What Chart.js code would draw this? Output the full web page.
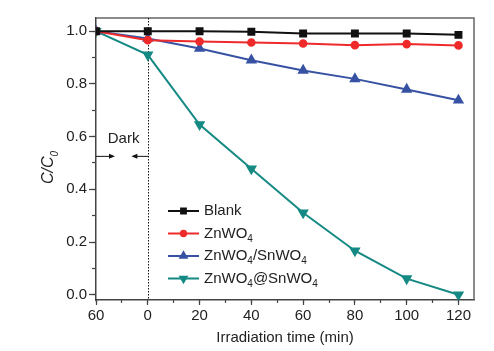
<!DOCTYPE html>
<html>
<head>
<meta charset="utf-8">
<script src="https://cdn.jsdelivr.net/npm/chart.js@4"></script>
<style>
  html, body { margin: 0; padding: 0; background: #fff; }
</style>
</head>
<body>
<canvas id="graph" width="494" height="351"></canvas>
<script>
// sampling times (min); the dark period before 0 is drawn compressed
const times = [-60, 0, 20, 40, 60, 80, 100, 120];
const names = ["Blank", "ZnWO₄", "ZnWO₄/SnWO₄", "ZnWO₄@SnWO₄"];
const blank = [1.0, 1.0, 1.0, 0.998, 0.991, 0.991, 0.991, 0.986];
const znwo4 = [1.0, 0.966, 0.961, 0.957, 0.953, 0.947, 0.951, 0.946];
const mixed = [1.0, 0.972, 0.934, 0.890, 0.851, 0.819, 0.779, 0.738];
const core = [1.0, 0.910, 0.646, 0.478, 0.311, 0.167, 0.061, 0.0];
const xTicks = [-60, 0, 20, 40, 60, 80, 100, 120];
const yTicks = [0.0, 0.2, 0.4, 0.6, 0.8, 1.0];

const pos = t => (t < 0 ? t / 3 : t);
const axisColor = "#444";
const textColor = "#222";
const fontFam = "'Liberation Sans', Arial, sans-serif";
const subs = "₀₁₂₃₄₅₆₇₈₉";

// draws text, rendering unicode subscript digits as small lowered digits
function drawSub(ctx, text, x, y, size, style) {
  style = style || "";
  ctx.textAlign = "left";
  ctx.textBaseline = "middle";
  for (const ch of text) {
    const k = subs.indexOf(ch);
    if (k >= 0) {
      ctx.font = style + " " + Math.round(size * 0.65) + "px " + fontFam;
      ctx.fillText(String(k), x, y + size * 0.38);
      x += ctx.measureText(String(k)).width;
    } else {
      ctx.font = style + " " + size + "px " + fontFam;
      ctx.fillText(ch, x, y);
      x += ctx.measureText(ch).width;
    }
  }
}

function arrow(ctx, x1, x2, y) {
  const dir = Math.sign(x2 - x1);
  ctx.beginPath();
  ctx.moveTo(x1, y);
  ctx.lineTo(x2 - dir * 4, y);
  ctx.stroke();
  ctx.beginPath();
  ctx.moveTo(x2, y);
  ctx.lineTo(x2 - dir * 6, y - 2.5);
  ctx.lineTo(x2 - dir * 6, y + 2.5);
  ctx.closePath();
  ctx.fill();
}

const decor = {
  id: "decor",
  beforeDatasetsDraw(chart) {
    const ctx = chart.ctx, a = chart.chartArea;
    const x = chart.scales.x, y = chart.scales.y;
    ctx.save();
    // frame
    ctx.strokeStyle = "#666";
    ctx.lineWidth = 1.5;
    ctx.beginPath();
    ctx.moveTo(a.left, a.top);
    ctx.lineTo(a.right, a.top);
    ctx.lineTo(a.right, a.bottom);
    ctx.stroke();
    // dark / light boundary
    ctx.strokeStyle = "#111";
    ctx.lineWidth = 1;
    ctx.setLineDash([1.5, 1.5]);
    const x0 = Math.round(x.getPixelForValue(0)) + 0.5;
    ctx.beginPath();
    ctx.moveTo(x0, a.top);
    ctx.lineTo(x0, a.bottom);
    ctx.stroke();
    ctx.setLineDash([]);
    // "Dark" label with arrows
    ctx.fillStyle = textColor;
    ctx.font = "15px " + fontFam;
    ctx.textAlign = "center";
    ctx.textBaseline = "middle";
    ctx.fillText("Dark", x.getPixelForValue(pos(-28)), y.getPixelForValue(0.593));
    const ya = y.getPixelForValue(0.525);
    ctx.strokeStyle = "#111";
    ctx.fillStyle = "#111";
    arrow(ctx, a.left, x.getPixelForValue(pos(-38)), ya);
    arrow(ctx, x0, x.getPixelForValue(pos(-19)), ya);
    // y axis title
    ctx.save();
    ctx.translate(49, (a.top + a.bottom) / 2 + 8);
    ctx.rotate(-Math.PI / 2);
    ctx.fillStyle = textColor;
    drawSub(ctx, "C/C₀", -17, 0, 16, "italic");
    ctx.restore();
    ctx.restore();
  },
  afterDraw(chart) {
    const ctx = chart.ctx;
    const helpers = Chart.helpers;
    ctx.save();
    chart.data.datasets.forEach((ds, i) => {
      const ly = 211 + i * 22.5;
      ctx.strokeStyle = ds.borderColor;
      ctx.lineWidth = 2;
      ctx.beginPath();
      ctx.moveTo(168, ly);
      ctx.lineTo(199, ly);
      ctx.stroke();
      ctx.fillStyle = ds.backgroundColor;
      if (helpers && helpers.drawPoint) {
        helpers.drawPoint(ctx, {
          pointStyle: ds.pointStyle, radius: ds.pointRadius * 0.8,
          rotation: ds.pointRotation || 0, borderWidth: 1
        }, 183.5, ly);
      }
      ctx.fillStyle = textColor;
      drawSub(ctx, ds.label, 204, ly, 15);
    });
    ctx.restore();
  }
};

const series = [blank, znwo4, mixed, core];
const colors = ["#111111", "#ee2a2a", "#3752a3", "#158983"];
const styles = ["rect", "circle", "triangle", "triangle"];
const radii = [4.2, 3.3, 4.6, 4.6];
const rotations = [0, 0, 0, 180];

new Chart(document.getElementById("graph").getContext("2d"), {
  type: "line",
  data: {
    datasets: series.map((vals, i) => ({
      label: names[i],
      data: times.map((t, j) => ({ x: pos(t), y: vals[j] })),
      borderColor: colors[i],
      backgroundColor: colors[i],
      pointBorderColor: colors[i],
      pointStyle: styles[i],
      pointRadius: radii[i],
      pointRotation: rotations[i],
      borderWidth: 2,
      tension: 0
    }))
  },
  options: {
    responsive: false,
    animation: false,
    devicePixelRatio: 1,
    layout: { padding: { top: 18, right: 20, left: 0, bottom: 0 } },
    plugins: { legend: { display: false }, tooltip: { enabled: false } },
    scales: {
      x: {
        type: "linear", position: "bottom", min: -20, max: 126,
        afterBuildTicks: s => { s.ticks = xTicks.map(t => ({ value: pos(t) })); },
        afterFit: s => { s.height = 51; },
        grid: { drawOnChartArea: false, tickLength: 5, tickColor: axisColor, tickWidth: 1.2 },
        border: { color: axisColor, width: 1.5 },
        ticks: {
          callback: (v, i) => String(Math.abs(xTicks[i])),
          font: { size: 15, family: fontFam }, color: textColor,
          padding: 2, maxRotation: 0, autoSkip: false
        },
        title: {
          display: true, text: "Irradiation time (min)",
          font: { size: 15, family: fontFam }, color: textColor, padding: { top: 0 }
        }
      },
      xMinor: {
        type: "linear", position: "bottom", weight: -1, min: -20, max: 126,
        afterFit: s => { s.height = 0; },
        grid: { drawOnChartArea: false, tickLength: 3, tickColor: axisColor, tickWidth: 1.2 },
        border: { display: false },
        ticks: { display: false, stepSize: 10, includeBounds: false }
      },
      y: {
        type: "linear", position: "left", min: -0.02, max: 1.05,
        afterBuildTicks: s => { s.ticks = yTicks.map(v => ({ value: v })); },
        afterFit: s => { s.width = 96; },
        grid: { drawOnChartArea: false, tickLength: 7, tickColor: axisColor, tickWidth: 1.2 },
        border: { color: axisColor, width: 1.5 },
        ticks: {
          callback: v => v.toFixed(1),
          font: { size: 15, family: fontFam }, color: textColor, padding: 2
        }
      },
      yMinor: {
        type: "linear", position: "left", weight: -1, min: -0.02, max: 1.05,
        afterFit: s => { s.width = 0; },
        grid: { drawOnChartArea: false, tickLength: 4, tickColor: axisColor, tickWidth: 1.2 },
        border: { display: false },
        ticks: { display: false, stepSize: 0.1, includeBounds: false }
      }
    }
  },
  plugins: [decor]
});
</script>
</body>
</html>
